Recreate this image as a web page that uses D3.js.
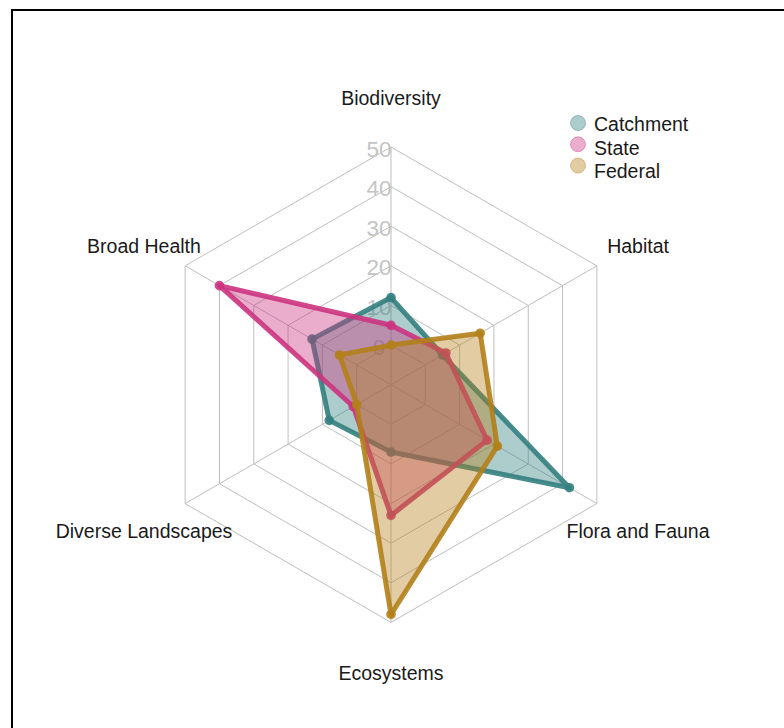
<!DOCTYPE html>
<html>
<head>
	<meta charset="utf-8">
	<title>Radar</title>
	<script src="https://cdn.jsdelivr.net/npm/d3@7"></script>
	<style type="text/css">
		body { margin: 0; background: white; }
		text { font-family: "Liberation Sans", Arial, sans-serif; }
	</style>
</head>
<body>

	<svg width=784 height=728 class="radar"></svg>

	<script type="text/javascript">

		// axes, listed counter-clockwise from the top
		categories = ['Biodiversity', 'Broad Health', 'Diverse Landscapes', 'Ecosystems', 'Flora and Fauna', 'Habitat']
		series_names = ['Catchment', 'State', 'Federal']
		catchment = [12, 13, 8, 7, 42, 5]
		state = [5, 40, 1, 23, 18, 6]
		federal = [0, 5, 0, 48, 21, 16]
		tick_labels = ['0', '10', '20', '30', '40', '50']
		tick_values = [0, 10, 20, 30, 40, 50]

		border_cols = ['rgba(51,128,128,0.9)', 'rgba(204,51,128,0.9)', 'rgba(179,128,26,0.9)']
		fill_cols = ['rgba(51,128,128,0.4)', 'rgba(204,51,128,0.4)', 'rgba(179,128,26,0.4)']

		svg = d3.select('.radar')
		cx = 391
		cy = 384.7
		R = 237.7

		// frame
		svg.append('rect')
			.attr('x', 12).attr('y', 10)
			.attr('width', 800).attr('height', 760)
			.attr('fill', 'none')
			.attr('stroke', 'black')
			.attr('stroke-width', 2)

		var g = svg.append('g')
			.attr('transform', 'translate(' + cx + ',' + cy + ')')

		r_scale = d3.scaleLinear().domain([0, 50]).range([R / 6, R])
		ang_scale = d3.scalePoint().domain(categories.concat(['_end'])).range([Math.PI / 2, Math.PI / 2 + 2 * Math.PI])

		function pt(cat, r) {
			var a = ang_scale(cat)
			return [r * Math.cos(a), -r * Math.sin(a)]
		}

		// grid rings
		tick_values.forEach(function(v) {
			g.append('polygon')
				.attr('points', categories.map(function(c) { return pt(c, r_scale(v)).join(',') }).join(' '))
				.attr('fill', 'none')
				.attr('stroke', '#bebebe')
				.attr('stroke-width', 1)
		})

		// spokes
		g.selectAll('.spoke')
			.data(categories)
			.enter()
			.append('line')
			.attr('x1', 0).attr('y1', 0)
			.attr('x2', function(d) { return pt(d, R)[0] })
			.attr('y2', function(d) { return pt(d, R)[1] })
			.attr('stroke', '#bebebe')
			.attr('stroke-width', 1)

		// tick labels
		g.selectAll('.tick')
			.data(tick_values)
			.enter()
			.append('text')
			.attr('x', -0.05 * R)
			.attr('y', function(d) { return -r_scale(d) + 2 })
			.attr('text-anchor', 'middle')
			.attr('dominant-baseline', 'central')
			.attr('fill', '#c4c4c4')
			.style('font-size', '22.5px')
			.text(function(d, i) { return tick_labels[i] })

		// axis labels
		g.selectAll('.vlab')
			.data(categories)
			.enter()
			.append('text')
			.attr('x', function(d) { return pt(d, R * 1.2)[0] })
			.attr('y', function(d, i) { return pt(d, R * 1.2)[1] + (i == 0 ? -1 : 3.5) })
			.attr('text-anchor', 'middle')
			.attr('dominant-baseline', 'central')
			.attr('fill', '#1a1a1a')
			.style('font-size', '19.5px')
			.text(function(d) { return d })

		// data polygons
		all_series = [catchment, state, federal]
		all_series.forEach(function(vals, s) {
			var pts = categories.map(function(c, i) { return pt(c, r_scale(vals[i])) })
			g.append('polygon')
				.attr('points', pts.map(function(p) { return p.join(',') }).join(' '))
				.attr('fill', fill_cols[s])
				.attr('stroke', border_cols[s])
				.attr('stroke-width', 5)
				.attr('stroke-linejoin', 'round')
			g.selectAll('.dot' + s)
				.data(pts)
				.enter()
				.append('circle')
				.attr('cx', function(d) { return d[0] })
				.attr('cy', function(d) { return d[1] })
				.attr('r', 4.8)
				.attr('fill', border_cols[s])
		})

		// legend
		var leg = svg.append('g').attr('transform', 'translate(578,123)')
		series_names.forEach(function(n, i) {
			leg.append('circle')
				.attr('cx', 0).attr('cy', i * 21.3)
				.attr('r', 7.5)
				.attr('fill', fill_cols[i])
				.attr('stroke', fill_cols[i])
				.attr('stroke-width', 1)
			leg.append('text')
				.attr('x', 16).attr('y', i * 23.5 + 1)
				.attr('dominant-baseline', 'central')
				.attr('fill', '#1a1a1a')
				.style('font-size', '19.5px')
				.text(n)
		})

	</script>

</body>
</html>
